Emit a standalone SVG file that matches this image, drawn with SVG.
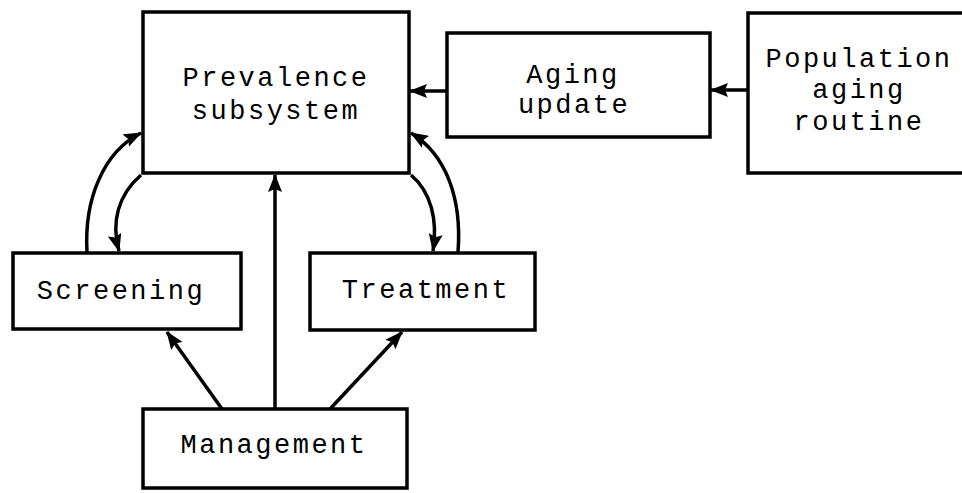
<svg xmlns="http://www.w3.org/2000/svg" width="962" height="493" viewBox="0 0 962 493">
  <style>
    .box { fill: #ffffff; stroke: #000000; stroke-width: 3.5; }
    .lbl { font-family: "Liberation Mono", "Courier New", monospace; font-size: 27px; letter-spacing: 2.5px; fill: #000000; text-anchor: middle; }
    .con { fill: none; stroke: #000000; stroke-width: 3.5; }
  </style>
  <defs>
    <marker id="ah" viewBox="0 0 18 14" refX="17" refY="7" markerWidth="18" markerHeight="14" markerUnits="userSpaceOnUse" orient="auto">
      <path d="M0,0 L18,7 L0,14 L3,7 z" fill="#000000"/>
    </marker>
  </defs>
  <rect x="0" y="0" width="962" height="493" fill="#ffffff"/>

  <g id="prevalence">
    <rect class="box" x="143" y="12" width="266" height="161"/>
    <text class="lbl" x="276" y="86">Prevalence</text>
    <text class="lbl" x="276" y="119">subsystem</text>
  </g>
  <g id="aging-update">
    <rect class="box" x="447" y="33" width="263" height="104"/>
    <text class="lbl" x="573" y="83">Aging</text>
    <text class="lbl" x="574" y="113">update</text>
  </g>
  <g id="population">
    <rect class="box" x="748" y="13" width="230" height="160"/>
    <text class="lbl" x="859" y="67">Population</text>
    <text class="lbl" x="859" y="98">aging</text>
    <text class="lbl" x="859" y="130">routine</text>
  </g>
  <g id="screening">
    <rect class="box" x="13" y="253" width="228" height="76"/>
    <text class="lbl" x="121" y="299">Screening</text>
  </g>
  <g id="treatment">
    <rect class="box" x="310" y="253" width="225" height="77"/>
    <text class="lbl" x="426" y="298">Treatment</text>
  </g>
  <g id="management">
    <rect class="box" x="143" y="409" width="264" height="79"/>
    <text class="lbl" x="274" y="453">Management</text>
  </g>

  <g id="connectors">
    <line class="con" x1="748" y1="90" x2="711" y2="90" marker-end="url(#ah)"/>
    <line class="con" x1="447" y1="91" x2="410" y2="91" marker-end="url(#ah)"/>
    <line class="con" x1="275" y1="409" x2="275" y2="175" marker-end="url(#ah)"/>
    <line class="con" x1="222" y1="409" x2="167" y2="332" marker-end="url(#ah)"/>
    <line class="con" x1="330" y1="409" x2="402" y2="332" marker-end="url(#ah)"/>
    <path class="con" d="M87,252 C84,200 103,152 141,133" marker-end="url(#ah)"/>
    <path class="con" d="M141,175 C118,195 111,222 119,251" marker-end="url(#ah)"/>
    <path class="con" d="M458,252 C462,200 447,155 411,133" marker-end="url(#ah)"/>
    <path class="con" d="M411,175 C431,192 438,220 433,251" marker-end="url(#ah)"/>
  </g>
</svg>
